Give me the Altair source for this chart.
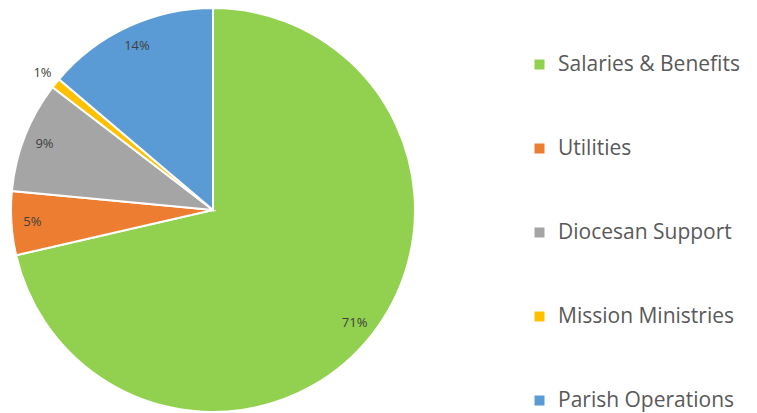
import altair as alt
import pandas as pd

categories = ["Salaries & Benefits", "Utilities", "Diocesan Support", "Mission Ministries", "Parish Operations"]
values = [71.4, 5.1, 8.9, 0.8, 13.8]
labels = ["71%", "5%", "9%", "1%", "14%"]
colors = ["#92D050", "#ED7D31", "#A5A5A5", "#FFC000", "#5B9BD5"]

df = pd.DataFrame({
    "category": categories,
    "value": values,
    "label": labels,
    "order": list(range(len(categories))),
})

total = float(sum(values))
theta_scale = alt.Scale(domain=[0, total])

color = alt.Color(
    "category:N",
    scale=alt.Scale(domain=categories, range=colors),
    sort=categories,
    legend=alt.Legend(
        title=None,
        orient="none",
        legendX=521,
        legendY=46,
        symbolType="square",
        symbolSize=100,
        symbolStrokeWidth=0,
        labelFontSize=21,
        labelFont="Open Sans",
        labelColor="#595959",
        rowPadding=62,
        labelOffset=8,
        labelLimit=300,
    ),
)

arcs = alt.Chart(df).mark_arc(outerRadius=202, stroke="white", strokeWidth=2).encode(
    theta=alt.Theta("value:Q", stack=True, scale=theta_scale),
    order=alt.Order("order:Q"),
    color=color,
)

text = alt.Chart(df).transform_window(
    cum="sum(value)", sort=[alt.SortField("order")], frame=[None, 0]
).transform_calculate(
    mid="datum.cum - datum.value / 2",
    r="datum.category == 'Mission Ministries' ? 219 : 181",
).mark_text(fontSize=13, font="Open Sans", color="#404040").encode(
    theta=alt.Theta("mid:Q", stack=None, scale=theta_scale),
    radius=alt.Radius("r:Q", scale=None),
    text="label:N",
)

chart = (arcs + text).properties(
    width=410,
    height=404,
    padding={"left": 0, "top": 0, "right": 330, "bottom": 0},
    autosize=alt.AutoSizeParams(type="none"),
).configure_view(stroke=None)

chart.save("out.html", embed_options={"renderer": "svg", "actions": False})
